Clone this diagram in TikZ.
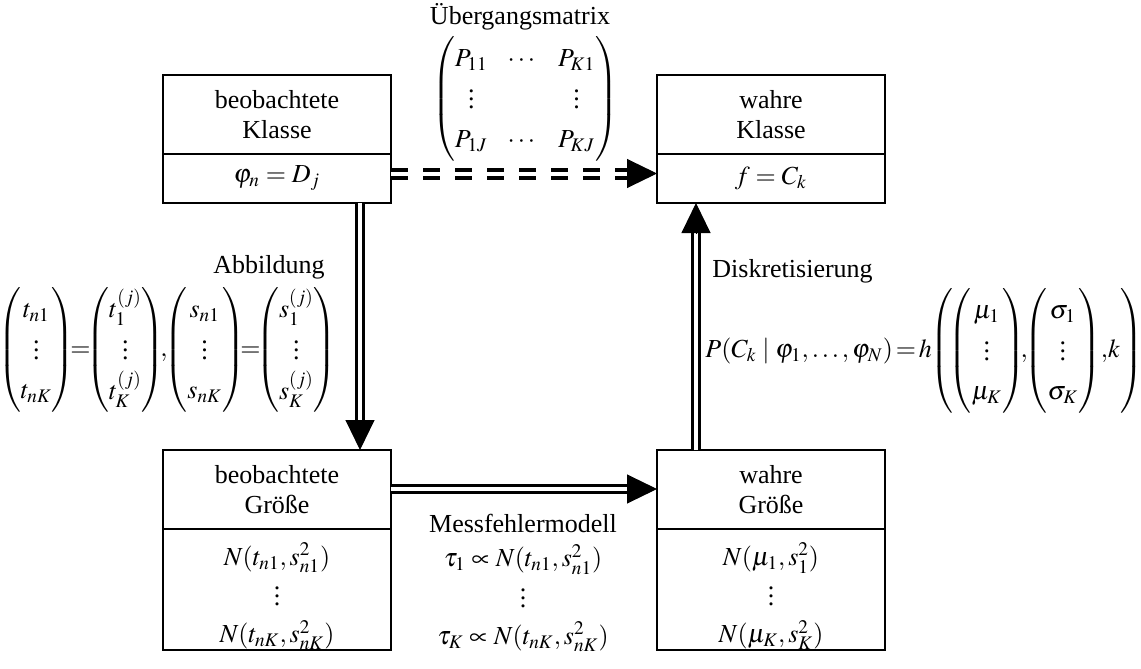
\documentclass[tikz,border=0pt]{standalone}
\usepackage{amsmath}
\usepackage{mathptmx}
\usepackage{fontspec}
\setmainfont{Liberation Serif}
\usetikzlibrary{positioning,arrows.meta,calc}
\renewcommand{\arraystretch}{1.3}

\begin{document}
\begin{tikzpicture}[x=0.5pt,y=-0.5pt,
  every node/.style={font=\fontsize{13pt}{15pt}\selectfont,inner sep=0pt},
  hdr/.style={draw,line width=0.9pt,outer sep=0pt,minimum width=114pt,minimum height=39.5pt,align=center},
  val/.style={draw,line width=0.9pt,outer sep=0pt,minimum width=114pt,minimum height=24.5pt},
  valbig/.style={val,minimum height=60.5pt},
  valtext/.style={align=center,font=\fontsize{13pt}{18.5pt}\selectfont},
  shaft/.style={double,line width=1.6pt,double distance=1.8pt},
  dshaft/.style={double,line width=2pt,double distance=2pt,dash pattern=on 8.5pt off 7.5pt},
  head/.style={-{Triangle[length=15pt,width=14.5pt]},line width=0.5pt}]
\useasboundingbox (0,0) rectangle (1141,669);

% Klassen
\node[hdr,anchor=north west] (obsclass) at (163,75) {beobachtete\\Klasse};
\node[val,below=0pt of obsclass] (obsclassval) {$\varphi_n = D_j$};
\node[hdr,right=133pt of obsclass] (trueclass) {wahre\\Klasse};
\node[val,below=0pt of trueclass] (trueclassval) {$f = C_k$};

% Groessen
\node[hdr,below=123.5pt of obsclassval] (obsquant) {beobachtete\\Größe};
\node[valbig,below=0pt of obsquant] (obsquantval) {};
\node[valtext] (obsquanttxt) at ([yshift=-3.5pt]obsquantval.center) {$N(t_{n1},s_{n1}^2)$\\$\vdots$\\$N(t_{nK},s_{nK}^2)$};
\node[hdr,right=133pt of obsquant] (truequant) {wahre\\Größe};
\node[valbig,below=0pt of truequant] (truequantval) {};
\node[valtext] (truequanttxt) at ([yshift=-3.5pt]truequantval.center) {$N(\mu_1,s_1^2)$\\$\vdots$\\$N(\mu_K,s_K^2)$};

% Verbindungen
\coordinate (transA) at ([yshift=2.5pt]obsclassval.east);
\coordinate (transB) at ([yshift=2.5pt]trueclassval.west);
\draw[dshaft,shorten >=15pt] (transA) -- (transB);
\draw[head] ($(transB)!15pt!(transA)$) -- (transB);

\coordinate (mapA) at ([xshift=-15.5pt]obsclassval.south east);
\coordinate (mapB) at ([xshift=-15.5pt]obsquant.north east);
\draw[shaft,shorten >=14pt] (mapA) -- (mapB);
\draw[head] ($(mapB)!15pt!(mapA)$) -- (mapB);

\coordinate (errA) at ([yshift=-19.5pt]obsquant.north east);
\coordinate (errB) at ([yshift=-19.5pt]truequant.north west);
\draw[shaft,shorten >=14pt] (errA) -- (errB);
\draw[head] ($(errB)!15pt!(errA)$) -- (errB);

\coordinate (discA) at ([xshift=19.5pt]truequant.north west);
\coordinate (discB) at ([xshift=19.5pt]trueclassval.south west);
\draw[shaft,shorten >=14pt] (discA) -- (discB);
\draw[head] ($(discB)!15pt!(discA)$) -- (discB);

% Beschriftungen
\node (transname) at (520,17) {Übergangsmatrix};
\node (transmat) at (525,99) {$\begin{pmatrix} P_{11} & \cdots & P_{K1}\\ \vdots & & \vdots\\ P_{1J} & \cdots & P_{KJ}\end{pmatrix}$};
\node[anchor=east] (mapname) at (325,267) {Abbildung};
\node[anchor=east] (mapeq) at (337,350) {$\begin{pmatrix}t_{n1}\\ \vdots\\ t_{nK}\end{pmatrix}\mkern-5mu{=}\mkern-5mu\begin{pmatrix}t_1^{(j)}\\ \vdots\\ t_K^{(j)}\end{pmatrix}\mkern-5mu{,}\mkern-4mu\begin{pmatrix}s_{n1}\\ \vdots\\ s_{nK}\end{pmatrix}\mkern-5mu{=}\mkern-5mu\begin{pmatrix}s_1^{(j)}\\ \vdots\\ s_K^{(j)}\end{pmatrix}$};
\node[anchor=west] (discname) at (712,271) {Diskretisierung};
\node[anchor=west] (disceq) at (705,351) {$P(C_k\mid\varphi_1,\ldots,\varphi_N)\mkern-2mu=\mkern-2mu h\mkern-3mu\left(\mkern-3mu\begin{pmatrix}\mu_1\\ \vdots\\ \mu_K\end{pmatrix}\mkern-5mu{,}\mkern-4mu\begin{pmatrix}\sigma_1\\ \vdots\\ \sigma_K\end{pmatrix}\mkern-2mu{,}k\right)$};
\node (errname) at (523,523) {Messfehlermodell};
\node[valtext] (erreq) at (523,598) {$\tau_1\propto N(t_{n1},s_{n1}^2)$\\$\vdots$\\$\tau_K\propto N(t_{nK},s_{nK}^2)$};
\end{tikzpicture}
\end{document}
